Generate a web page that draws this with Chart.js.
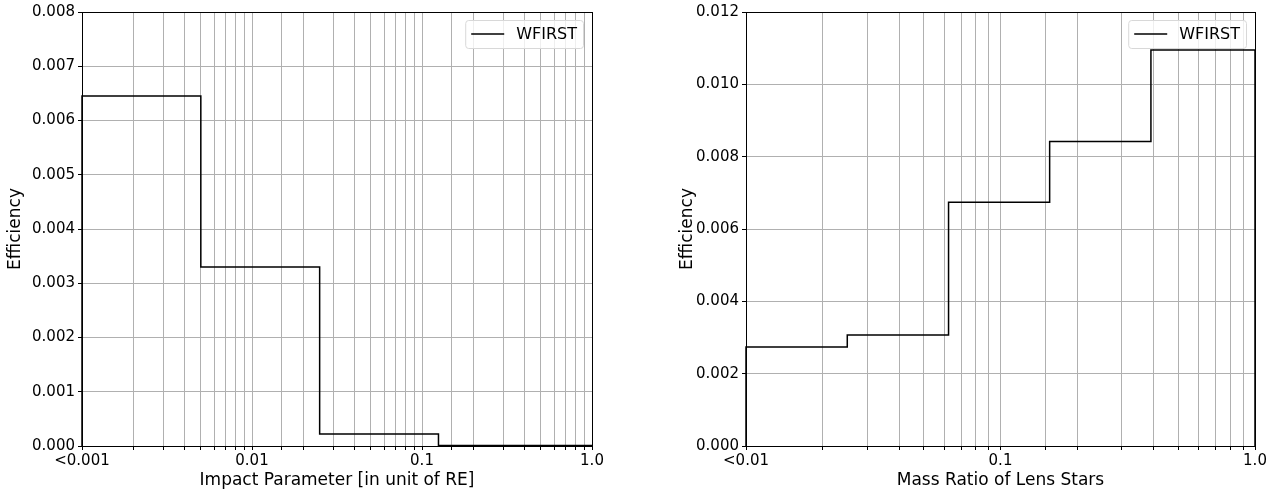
<!DOCTYPE html>
<html>
<head>
<meta charset="utf-8">
<script src="https://cdn.jsdelivr.net/npm/chart.js@4.4.0/dist/chart.umd.min.js"></script>
<style>
  body { margin: 0; background: #fff; }
  .box { position: absolute; top: 0; height: 494px; }
  #leftBox { left: 0; width: 640px; }
  #rightBox { left: 640px; width: 641px; }
</style>
</head>
<body>
<div class="box" id="leftBox"><canvas id="impactChart"></canvas></div>
<div class="box" id="rightBox"><canvas id="massChart"></canvas></div>
<script>
// histogram bin edges and efficiencies
var impactEdges = [0.001, 0.005, 0.025, 0.125, 1.0];
var impactEff = [0.00645, 0.0033, 0.00022, 0.00001];
var massEdges = [0.01, 0.025, 0.0625, 0.156, 0.39, 1.0];
var massEff = [0.00274, 0.00307, 0.00674, 0.00842, 0.01095];
var seriesName = 'WFIRST';

Chart.defaults.font.family = 'DejaVu Sans';
Chart.defaults.font.size = 15;
Chart.defaults.color = '#000';

// turn edges + values into step points
function stepPoints(edges, vals) {
  var pts = [{x: edges[0], y: 0}];
  for (var i = 0; i < vals.length; i++) {
    pts.push({x: edges[i], y: vals[i]});
  }
  pts.push({x: edges[edges.length - 1], y: vals[vals.length - 1]});
  pts.push({x: edges[edges.length - 1], y: 0});
  return pts;
}

function isDecade(v) {
  var l = Math.log10(v);
  return Math.abs(l - Math.round(l)) < 1e-9;
}

// frame + matplotlib-ish legend drawn inside the plot area
var framePlugin = {
  id: 'frame',
  afterDraw: function (chart) {
    var a = chart.chartArea, ctx = chart.ctx;
    ctx.save();
    ctx.strokeStyle = '#000';
    ctx.lineWidth = 1;
    ctx.strokeRect(a.left + 0.5, a.top + 0.5, a.right - a.left, a.bottom - a.top);

    var label = chart.data.datasets[0].label;
    ctx.font = '16px DejaVu Sans';
    var tw = ctx.measureText(label).width;
    var w = 51 + tw + 6, h = 28;
    var x = a.right - 9 - w, y = a.top + 8;
    ctx.fillStyle = 'rgba(255,255,255,0.8)';
    ctx.strokeStyle = '#d8d8d8';
    ctx.beginPath();
    ctx.roundRect(x + 0.5, y + 0.5, w, h, 3);
    ctx.fill();
    ctx.stroke();
    ctx.strokeStyle = '#000';
    ctx.lineWidth = 1.5;
    ctx.beginPath();
    ctx.moveTo(x + 6, y + h / 2);
    ctx.lineTo(x + 39, y + h / 2);
    ctx.stroke();
    ctx.fillStyle = '#000';
    ctx.textBaseline = 'middle';
    ctx.fillText(label, x + 51, y + h / 2 + 1);
    ctx.restore();
  }
};

function makeChart(id, edges, vals, opts) {
  return new Chart(document.getElementById(id), {
    type: 'line',
    data: {
      datasets: [{
        label: seriesName,
        data: stepPoints(edges, vals),
        stepped: 'before',
        borderColor: '#000',
        borderWidth: 1.5,
        pointRadius: 0,
        fill: false,
        clip: 4
      }]
    },
    options: {
      responsive: true,
      maintainAspectRatio: false,
      animation: false,
      layout: { padding: { top: 12, right: opts.padRight, bottom: 0, left: 0 } },
      plugins: { legend: { display: false }, tooltip: { enabled: false } },
      scales: {
        x: {
          type: 'logarithmic',
          min: edges[0],
          max: 1,
          afterFit: function (s) { s.height = 48; },
          grid: { color: '#b0b0b0', lineWidth: 1, tickLength: 4, tickColor: '#000' },
          border: { color: '#000' },
          ticks: {
            autoSkip: false,
            maxRotation: 0,
            padding: 2,
            callback: function (v) {
              if (!isDecade(v)) return '';
              if (Math.abs(v - edges[0]) < 1e-12) return opts.firstLabel;
              if (Math.abs(v - 1) < 1e-12) return '1.0';
              return String(+v.toPrecision(3));
            }
          },
          title: { display: true, text: opts.xTitle, font: { size: 17 }, padding: { top: 0, bottom: 3 } }
        },
        y: {
          min: 0,
          max: opts.yMax,
          afterFit: function (s) { s.width = opts.yWidth; },
          grid: { color: '#b0b0b0', lineWidth: 1, tickLength: 4, tickColor: '#000' },
          border: { color: '#000' },
          ticks: {
            stepSize: opts.yStep,
            padding: 3,
            callback: function (v) { return v.toFixed(3); }
          },
          title: { display: true, text: 'Efficiency', font: { size: 17 }, padding: { top: opts.titlePad, bottom: 4 } }
        }
      }
    },
    plugins: [framePlugin]
  });
}

makeChart('impactChart', impactEdges, impactEff, {
  padRight: 48, yWidth: 82, yMax: 0.008, yStep: 0.001, titlePad: 5,
  firstLabel: '<0.001', xTitle: 'Impact Parameter [in unit of RE]'
});
makeChart('massChart', massEdges, massEff, {
  padRight: 26, yWidth: 106, yMax: 0.012, yStep: 0.002, titlePad: 37,
  firstLabel: '<0.01', xTitle: 'Mass Ratio of Lens Stars'
});
</script>
</body>
</html>
